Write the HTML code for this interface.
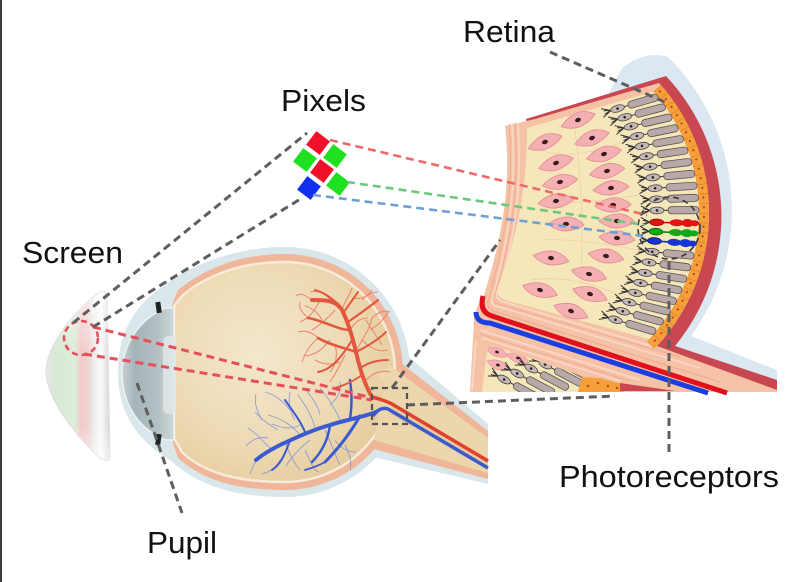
<!DOCTYPE html>
<html><head><meta charset="utf-8"><title>Screen to retina</title>
<style>
html,body{margin:0;padding:0;background:#fff;width:800px;height:582px;overflow:hidden}
svg{display:block}
.lbl{font-family:"Liberation Sans",Arial,Helvetica,sans-serif;font-size:31px;fill:#111}
</style></head><body>
<svg width="800" height="582" viewBox="0 0 800 582" xmlns="http://www.w3.org/2000/svg">
<defs>
<linearGradient id="gScr" x1="0" y1="0" x2="1" y2="0">
 <stop offset="0" stop-color="#e4e8e4"/>
 <stop offset="0.15" stop-color="#d8e9d4"/>
 <stop offset="0.45" stop-color="#dcecd8"/>
 <stop offset="0.55" stop-color="#f4caca"/>
 <stop offset="0.66" stop-color="#f1d2d2"/>
 <stop offset="0.74" stop-color="#ececec"/>
 <stop offset="0.86" stop-color="#fbfbfb"/>
 <stop offset="1" stop-color="#d6d6d6"/>
</linearGradient>
<linearGradient id="gScrV" x1="0" y1="0" x2="0" y2="1">
 <stop offset="0" stop-color="#fff" stop-opacity="0.6"/>
 <stop offset="0.35" stop-color="#fff" stop-opacity="0"/>
 <stop offset="0.8" stop-color="#fff" stop-opacity="0"/>
 <stop offset="1" stop-color="#fff" stop-opacity="0.5"/>
</linearGradient>
<linearGradient id="gCor" x1="0" y1="0" x2="1" y2="0">
 <stop offset="0" stop-color="#c5cfd2"/>
 <stop offset="0.25" stop-color="#a5b4b8"/>
 <stop offset="0.7" stop-color="#b4c1c4"/>
 <stop offset="1" stop-color="#cfd8da"/>
</linearGradient>
<radialGradient id="gIn" cx="0.38" cy="0.42" r="0.65">
 <stop offset="0" stop-color="#f4e7cd"/>
 <stop offset="0.6" stop-color="#eedbb6"/>
 <stop offset="1" stop-color="#e6cc9e"/>
</radialGradient>
<g id="rod">
 <path d="M0,-4.5 L9,0 M0,4.5 L9,0 M2,-1.8 L9,0 M2,1.8 L9,0" stroke="#333" stroke-width="1" fill="none"/>
 <ellipse cx="16" cy="0" rx="7" ry="3.4" fill="#c6b6b6" stroke="#444" stroke-width="0.8"/>
 <circle cx="16" cy="0" r="1.3" fill="#222"/>
 <path d="M23,0 L28,0" stroke="#444" stroke-width="1.1"/>
 <rect x="27" y="-3.6" width="31" height="7.2" rx="3.4" fill="#b9a8a8" stroke="#555" stroke-width="0.8"/>
</g>
<g id="cell">
 <path d="M-18,0 Q-7,-8 4,-7 Q13,-5 18,1 Q9,7 -2,7 Q-11,6 -18,0Z" fill="#f5b0b4" stroke="#e28f96" stroke-width="0.9"/>
 <ellipse cx="0" cy="0" rx="3" ry="2.1" fill="#3a1a1a"/>
</g>
<clipPath id="clipLow"><path d="M487,352 Q487,345 494,346 L582,376 L600,392 L482,392 Z"/></clipPath>
</defs>

<rect x="0" y="0" width="800" height="582" fill="#fff"/>
<rect x="0" y="0" width="2" height="582" fill="#3a3a3a"/>

<!-- ============ SCREEN ============ -->
<path d="M100,292 Q108,290 107,300 L110,455 Q110,463 101,459 C75,435 47,400 46,372 C46,345 75,310 100,292 Z" fill="url(#gScr)" stroke="#dedede" stroke-width="1"/>
<path d="M100,292 Q108,290 107,300 L110,455 Q110,463 101,459 C75,435 47,400 46,372 C46,345 75,310 100,292 Z" fill="url(#gScrV)"/>

<!-- ============ EYE ============ -->
<path d="M285,247 A125,125 0 0 1 285,497 C240,497 200,488 170,460 Q118,430 118,372 Q118,315 165,285 C195,262 240,247 285,247 Z" fill="#d9e6ea"/>
<polygon points="395,345 488,424 488,484 365,455" fill="#d9e6ea"/>
<path d="M285,254 A118,118 0 0 1 285,490 C240,490 205,482 178,458 L172,440 L172,305 L178,290 C205,268 240,254 285,254 Z" fill="#f0b69a"/>
<polygon points="392,356 488,431 488,479 370,448" fill="#f0b69a"/>
<path d="M285,262 A110,110 0 0 1 285,482 C240,482 205,474 182,452 L174,438 L174,306 L182,296 C205,276 240,262 285,262 Z" fill="url(#gIn)" stroke="#f7ecd8" stroke-width="2.5"/>
<polygon points="388,364 488,438 488,473 374,440" fill="#ecd6ab"/>
<path d="M380,376 L395,372" stroke="#ecd6ab" stroke-width="12"/>
<path d="M392,404 L488,458 L488,470 L390,414 Z" fill="#e2c495" opacity="0.6"/>

<!-- cornea -->
<path d="M166,308 C140,318 122,345 122,373 C122,405 140,430 166,440 L174,440 L174,308 Z" fill="url(#gCor)" stroke="#eef2f3" stroke-width="1.5"/>
<rect x="163" y="336" width="13" height="78" rx="5" fill="#dfe6e8" opacity="0.85"/>
<rect x="156" y="302" width="5" height="11" fill="#222" transform="rotate(-8 158 307)"/>
<rect x="156" y="434" width="5" height="11" fill="#222" transform="rotate(8 158 439)"/>

<!-- blue vessels fine -->
<g stroke="#7088e2" stroke-width="0.9" fill="none" opacity="0.75">
 <path d="M290,410 C282,400 275,395 265,392"/>
 <path d="M300,435 C292,425 280,418 268,415"/>
 <path d="M315,428 C312,415 305,405 298,395"/>
 <path d="M325,430 C332,445 335,455 340,465"/>
 <path d="M270,448 C262,440 255,432 248,428"/>
 <path d="M285,442 C290,455 295,465 300,470"/>
 <path d="M340,420 C335,408 328,398 320,388"/>
 <path d="M278,430 C270,425 262,420 255,412"/>
 <path d="M305,450 C310,460 312,468 318,472"/>
 <path d="M260,455 C255,462 252,468 250,474"/>
 <path d="M295,420 C290,412 288,402 290,392"/>
 <path d="M335,440 C340,448 348,452 356,452"/>
 <path d="M310,440 C300,448 292,456 286,466"/>
 <path d="M320,415 C318,405 312,398 306,390"/>
 <path d="M268,438 C258,436 252,440 246,446"/>
 <path d="M345,445 C350,455 352,462 350,470"/>
 <path d="M300,425 C290,430 282,428 272,424"/>
 <path d="M330,405 C338,398 342,390 340,382"/>
 <path d="M280,460 C276,468 270,472 262,474"/>
 <path d="M262,420 C256,410 254,402 256,394"/>
</g>
<g stroke="#3c5ad0" fill="none" stroke-linecap="round">
 <path d="M376,412 C360,418 345,420 330,425 C312,430 295,438 280,445 C270,450 262,455 256,460" stroke-width="4"/>
 <path d="M360,416 C352,430 342,445 325,462" stroke-width="3"/>
 <path d="M350,419 C352,405 352,395 350,380" stroke-width="2.5"/>
 <path d="M330,425 C328,440 322,452 312,462" stroke-width="2.5"/>
 <path d="M305,432 C300,420 292,410 285,400" stroke-width="2"/>
 <path d="M290,440 C285,455 280,465 272,470" stroke-width="2"/>
 <path d="M325,462 C318,466 312,468 305,470" stroke-width="1.8"/>
</g>
<!-- red vessels fine -->
<g stroke="#ee7a66" stroke-width="1.1" fill="none" opacity="0.85">
 <path d="M320,300 C315,310 310,318 300,322"/>
 <path d="M335,310 C328,318 320,325 312,330"/>
 <path d="M366,320 C372,330 378,338 382,345"/>
 <path d="M352,298 C362,300 368,296 372,290"/>
 <path d="M330,340 C322,350 315,355 305,356"/>
 <path d="M345,355 C340,365 335,375 330,382"/>
 <path d="M362,340 C372,350 380,352 388,350"/>
 <path d="M312,300 C305,295 300,292 296,296"/>
 <path d="M318,338 C310,345 305,352 302,362"/>
 <path d="M370,330 C378,325 384,320 388,312"/>
 <path d="M342,310 C345,300 350,295 352,288"/>
 <path d="M330,300 C325,292 318,290 310,292"/>
 <path d="M356,352 C362,338 370,330 372,318"/>
 <path d="M350,330 C355,322 360,318 368,318"/>
 <path d="M318,338 C312,332 305,330 298,332"/>
 <path d="M322,320 C318,312 312,308 305,306"/>
 <path d="M335,345 C338,355 336,365 330,372"/>
 <path d="M366,380 C374,372 382,370 390,372"/>
 <path d="M372,318 C378,312 385,310 390,312"/>
 <path d="M362,300 C366,295 372,292 378,292"/>
 <path d="M308,318 C302,312 298,308 300,302"/>
 <path d="M340,362 C330,366 322,364 315,360"/>
</g>
<g stroke="#e4573f" fill="none" stroke-linecap="round">
 <path d="M372,397 C365,385 360,370 356,352 C352,335 348,322 342,310 C336,300 325,300 312,300" stroke-width="4"/>
 <path d="M356,352 C345,348 330,345 318,338" stroke-width="2.5"/>
 <path d="M350,330 C338,330 322,320 308,318" stroke-width="2.5"/>
 <path d="M348,322 C358,315 368,308 378,300" stroke-width="2.2"/>
 <path d="M344,312 C350,303 354,298 358,292" stroke-width="2"/>
 <path d="M360,368 C370,362 378,360 388,360" stroke-width="2"/>
 <path d="M356,352 C368,346 378,340 386,332" stroke-width="2"/>
 <path d="M340,306 C330,296 322,292 315,290" stroke-width="2"/>
 <path d="M352,340 C340,360 330,370 318,372" stroke-width="2"/>
 <path d="M362,375 C352,382 345,385 335,388" stroke-width="1.8"/>
</g>
<path d="M372,397 C380,399 386,401 392,404 L488,461" stroke="#e0402e" stroke-width="3.5" fill="none"/>
<path d="M373,416 C377,410 382,407 388,409 L488,468" stroke="#3c5ad0" stroke-width="3.5" fill="none"/>

<!-- ============ RETINA INSET ============ -->
<path d="M622,68 Q645,50 668,57 A215,215 0 0 1 691,336 L777,370 L777,391 L600,391 L600,110 Z" fill="#dbe7f1"/>
<path d="M526,119 L666,76 A205,205 0 0 1 675,346 L777,380 L777,391 L560,391 Z" fill="#c94751"/>
<path d="M505,126 L535,119 L659,83 A195,195 0 0 1 657,346 L777,390 L777,392 L470,392 L474,320 Q476,305 483,298 C508,220 510,170 505,126 Z" fill="#f5c2a6"/>
<g stroke="#f9d9c8" stroke-width="1.6" fill="none">
 <path d="M512,124 C516,175 513,225 492,300 Q491,306 500,307 L700,368"/>
 <path d="M518,123 C521,175 519,228 497,294 Q496,300 504,302 L655,347"/>
 <path d="M480,330 L640,380"/>
 <path d="M482,338 L620,381"/>
 <path d="M476,340 L472,390"/>
</g>
<g stroke="#eeac90" stroke-width="1" fill="none">
 <path d="M509,124 C513,172 510,222 488,302 Q487,310 497,312 L720,382"/>
 <path d="M515,123 C518,174 516,226 494,297 Q493,304 502,305 L680,357"/>
 <path d="M480,334 L630,381"/>
</g>
<path d="M657.4,88.4 A190,190 0 0 1 650.7,345" stroke="#f6a03c" stroke-width="10" fill="none"/>
<path d="M657.4,88.4 A190,190 0 0 1 650.7,345" stroke="#e0852a" stroke-width="10" fill="none" stroke-dasharray="0.8 8.9"/>
<path d="M657.4,88.4 A190,190 0 0 1 650.7,345" stroke="#b8501a" stroke-width="2.4" fill="none" stroke-dasharray="0 9.7" stroke-linecap="round" stroke-dashoffset="-4"/>
<path d="M527,128 L653.6,91.6 A185,185 0 0 1 649,339 L505,300 Q496,297 498,287 C520,230 527,180 527,128 Z" fill="#f6e7bb"/>
<g stroke="#efc9a8" stroke-width="0.8" fill="none" opacity="0.8">
 <path d="M540,150 C570,160 600,150 630,140"/>
 <path d="M545,200 C575,205 605,200 640,195"/>
 <path d="M540,240 C570,238 610,245 640,250"/>
 <path d="M530,280 C565,275 600,285 630,300"/>
 <path d="M575,130 C580,170 585,220 580,300"/>
</g>
<!-- pink cells -->
<use href="#cell" transform="translate(578,120) rotate(-22)"/>
<use href="#cell" transform="translate(545,142) rotate(-22)"/>
<use href="#cell" transform="translate(592,138) rotate(-20)"/>
<use href="#cell" transform="translate(556,163) rotate(-18)"/>
<use href="#cell" transform="translate(604,154) rotate(-16)"/>
<use href="#cell" transform="translate(560,182) rotate(-12)"/>
<use href="#cell" transform="translate(607,171) rotate(-12)"/>
<use href="#cell" transform="translate(611,188) rotate(-8)"/>
<use href="#cell" transform="translate(556,201) rotate(-8)"/>
<use href="#cell" transform="translate(613,205) rotate(-4)"/>
<use href="#cell" transform="translate(566,224) rotate(0)"/>
<use href="#cell" transform="translate(617,221) rotate(0)"/>
<use href="#cell" transform="translate(617,238) rotate(4)"/>
<use href="#cell" transform="translate(551,258) rotate(8)"/>
<use href="#cell" transform="translate(606,256) rotate(8)"/>
<use href="#cell" transform="translate(589,274) rotate(12)"/>
<use href="#cell" transform="translate(540,290) rotate(14)"/>
<use href="#cell" transform="translate(590,294) rotate(16)"/>
<use href="#cell" transform="translate(571,311) rotate(18)"/>
<!-- rods: outer end on arc, gentle orientation -->
<g>
<use href="#rod" transform="translate(657.9,96.8) rotate(-16.3) translate(-58,0)"/>
<use href="#rod" transform="translate(665.3,106.6) rotate(-14.7) translate(-58,0)"/>
<use href="#rod" transform="translate(672,116.8) rotate(-13.1) translate(-58,0)"/>
<use href="#rod" transform="translate(678.1,127.6) rotate(-11.6) translate(-58,0)"/>
<use href="#rod" transform="translate(683.4,138.6) rotate(-10) translate(-58,0)"/>
<use href="#rod" transform="translate(687.9,150.1) rotate(-8.4) translate(-58,0)"/>
<use href="#rod" transform="translate(691.8,161.7) rotate(-6.8) translate(-58,0)"/>
<use href="#rod" transform="translate(694.7,173.6) rotate(-5.2) translate(-58,0)"/>
<use href="#rod" transform="translate(697,185.6) rotate(-3.6) translate(-58,0)"/>
<use href="#rod" transform="translate(698.4,197.8) rotate(-2) translate(-58,0)"/>
<use href="#rod" transform="translate(699,210.1) rotate(-0.4) translate(-58,0)"/>
<use href="#rod" transform="translate(694,255.9) rotate(5.6) translate(-58,0)"/>
<use href="#rod" transform="translate(690.7,267.7) rotate(7.2) translate(-58,0)"/>
<use href="#rod" transform="translate(686.7,279.3) rotate(8.8) translate(-58,0)"/>
<use href="#rod" transform="translate(681.9,290.6) rotate(10.4) translate(-58,0)"/>
<use href="#rod" transform="translate(676.4,301.6) rotate(12) translate(-58,0)"/>
<use href="#rod" transform="translate(670.2,312.1) rotate(13.6) translate(-58,0)"/>
<use href="#rod" transform="translate(663.3,322.3) rotate(15.2) translate(-58,0)"/>
<use href="#rod" transform="translate(655.7,331.9) rotate(16.8) translate(-58,0)"/>
</g>
<!-- colored photoreceptors -->
<g transform="translate(698.7,223.3) rotate(1.3) translate(-58,0)">
 <path d="M0,-4.5 L9,0 M0,4.5 L9,0 M2,-1.8 L9,0 M2,1.8 L9,0" stroke="#333" stroke-width="1" fill="none"/>
 <ellipse cx="16" cy="0" rx="7" ry="3.4" fill="#e01414" stroke="#600" stroke-width="0.6"/>
 <path d="M23,0 L30,0" stroke="#c00" stroke-width="1.6"/>
 <ellipse cx="36" cy="0" rx="7" ry="3.5" fill="#e01414"/>
 <ellipse cx="47" cy="0" rx="6" ry="4" fill="#e01414"/>
 <ellipse cx="54" cy="0" rx="4.5" ry="3" fill="#e01414"/>
</g>
<g transform="translate(697.9,233.6) rotate(2.7) translate(-58,0)">
 <path d="M0,-4.5 L9,0 M0,4.5 L9,0 M2,-1.8 L9,0 M2,1.8 L9,0" stroke="#333" stroke-width="1" fill="none"/>
 <ellipse cx="16" cy="0" rx="7" ry="3.4" fill="#12a818" stroke="#040" stroke-width="0.6"/>
 <path d="M23,0 L30,0" stroke="#0a8a10" stroke-width="1.6"/>
 <ellipse cx="36" cy="0" rx="7" ry="3.5" fill="#12a818"/>
 <ellipse cx="47" cy="0" rx="6" ry="4" fill="#12a818"/>
 <ellipse cx="54" cy="0" rx="4.5" ry="3" fill="#12a818"/>
</g>
<g transform="translate(696.4,243.9) rotate(4) translate(-58,0)">
 <path d="M0,-4.5 L9,0 M0,4.5 L9,0 M2,-1.8 L9,0 M2,1.8 L9,0" stroke="#333" stroke-width="1" fill="none"/>
 <ellipse cx="16" cy="0" rx="7" ry="3.4" fill="#1434d8" stroke="#002" stroke-width="0.6"/>
 <path d="M23,0 L30,0" stroke="#1030c0" stroke-width="1.6"/>
 <ellipse cx="36" cy="0" rx="7" ry="3.5" fill="#1434d8"/>
 <ellipse cx="47" cy="0" rx="6" ry="4" fill="#1434d8"/>
 <ellipse cx="54" cy="0" rx="4.5" ry="3" fill="#1434d8"/>
</g>

<path d="M483,296 Q479,312 492,316 L727,393" stroke="#e0101c" stroke-width="5" fill="none"/>
<path d="M476,312 Q476,323 490,323 L708,393" stroke="#1a3ee0" stroke-width="5" fill="none"/>

<!-- lower section -->
<path d="M487,352 Q487,345 494,346 L582,376 L600,392 L482,392 Z" fill="#f6e7bb"/>
<g clip-path="url(#clipLow)">
 <use href="#cell" transform="translate(497,352) rotate(20) scale(0.65)"/>
 <use href="#cell" transform="translate(518,358) rotate(20) scale(0.65)"/>
 <use href="#cell" transform="translate(498,365) rotate(20) scale(0.65)"/>
 <use href="#rod" transform="translate(490,372) rotate(28)"/>
 <use href="#rod" transform="translate(503,366) rotate(28)"/>
 <use href="#rod" transform="translate(517,361) rotate(28)"/>
 <use href="#rod" transform="translate(531,357) rotate(28)"/>
 <use href="#rod" transform="translate(545,354) rotate(28)"/>
 <use href="#rod" transform="translate(559,352) rotate(28)"/>
</g>
<polygon points="578,392 582,377 600,378 622,384 624,392" fill="#f6a03c"/>
<circle cx="588" cy="386" r="1.3" fill="#b8501a"/>
<circle cx="598" cy="383" r="1.3" fill="#b8501a"/>
<circle cx="608" cy="386" r="1.3" fill="#b8501a"/>
<circle cx="617" cy="388" r="1.3" fill="#b8501a"/>
<polygon points="620,383 675,391 620,391" fill="#c94751"/>

<ellipse cx="669" cy="228" rx="31" ry="31" fill="none" stroke="#3a3a3a" stroke-width="1.6" stroke-dasharray="6 4"/>

<!-- ============ PIXELS ============ -->
<g>
 <rect x="-8.5" y="-8.5" width="17" height="17" fill="#f0102a" transform="translate(318,143) rotate(37)"/>
 <rect x="-8.5" y="-8.5" width="17" height="17" fill="#1fe020" transform="translate(305,160) rotate(37)"/>
 <rect x="-8.5" y="-8.5" width="17" height="17" fill="#1fe020" transform="translate(335,156) rotate(37)"/>
 <rect x="-8.5" y="-8.5" width="17" height="17" fill="#f0102a" transform="translate(322,171) rotate(37)"/>
 <rect x="-8.5" y="-8.5" width="17" height="17" fill="#1fe020" transform="translate(338,184) rotate(37)"/>
 <rect x="-8.5" y="-8.5" width="17" height="17" fill="#1030f0" transform="translate(309,188) rotate(37)"/>
</g>

<!-- ============ DASHED LINES ============ -->
<g fill="none" stroke-width="2.6" stroke-dasharray="8 5">
 <path d="M330,140 L647,215" stroke="#ee6a6a"/>
 <path d="M347,182 L645,225" stroke="#6cc87c"/>
 <path d="M313,195 L643,236" stroke="#6fa0d4"/>
</g>
<g fill="none" stroke="#e4505c" stroke-width="3" stroke-dasharray="8 5">
 <circle cx="81" cy="338" r="17" stroke-width="2.6" stroke-dasharray="6 4"/>
 <path d="M93,327 L372,398"/>
 <path d="M84,354 L372,400"/>
</g>
<g fill="none" stroke="#5e5e5e" stroke-width="3" stroke-dasharray="8 5">
 <path d="M73,323 L307,133"/>
 <path d="M93,327 L302,198"/>
 <path d="M137,383 L182,513"/>
 <path d="M392,388 L500,240"/>
 <path d="M407,405 L615,396"/>
 <path d="M550,52 L667,103"/>
 <path d="M669,262 L669,455"/>
</g>
<rect x="372" y="388" width="35" height="36" fill="none" stroke="#555" stroke-width="2.2" stroke-dasharray="6 4"/>

<!-- ============ LABELS ============ -->
<text class="lbl" x="463" y="42" textLength="92" lengthAdjust="spacingAndGlyphs">Retina</text>
<text class="lbl" x="281" y="111" textLength="85" lengthAdjust="spacingAndGlyphs">Pixels</text>
<text class="lbl" x="22" y="263" textLength="101" lengthAdjust="spacingAndGlyphs">Screen</text>
<text class="lbl" x="147" y="553" textLength="70" lengthAdjust="spacingAndGlyphs">Pupil</text>
<text class="lbl" x="559" y="487" textLength="220" lengthAdjust="spacingAndGlyphs">Photoreceptors</text>
</svg>
</body></html>
